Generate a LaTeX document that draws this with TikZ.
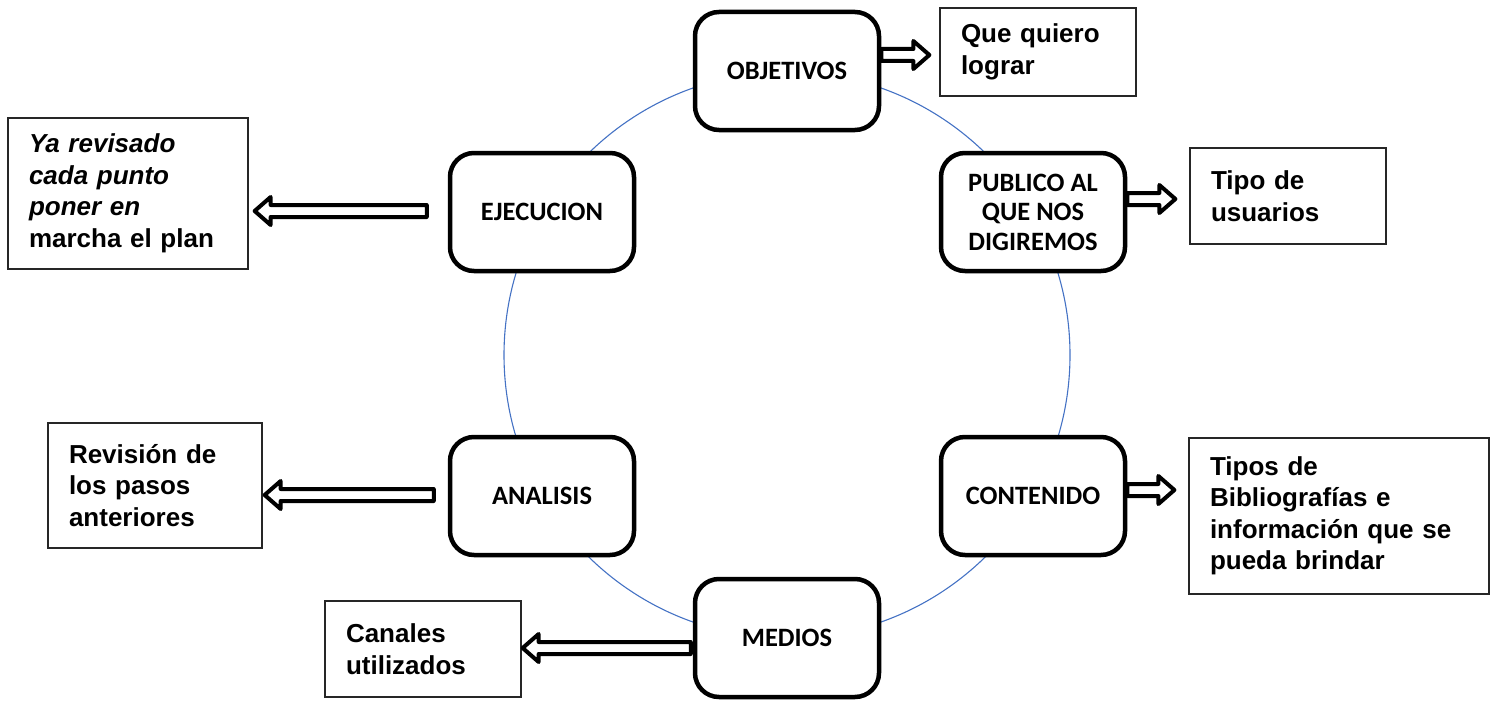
\documentclass[tikz,border=0pt]{standalone}
\usepackage{fontspec}
\setmainfont{Liberation Sans}
\newfontfamily\calib{Carlito}
\usetikzlibrary{calc}
\definecolor{ringblue}{RGB}{68,114,196}
\newcommand\harr[2]{%
  \draw[harrowstyle] let \p1=(#1), \p2=(#2), \n1={sign(\x2-\x1)} in
    (\x1,\y1+6pt) -- (\x2-\n1*16pt,\y1+6pt) -- (\x2-\n1*16pt,\y1+14pt)
    -- (\x2,\y1) -- (\x2-\n1*16pt,\y1-14pt) -- (\x2-\n1*16pt,\y1-6pt)
    -- (\x1,\y1-6pt) -- cycle;}
\tikzset{
  stepbox/.style={draw=black, line width=4.5pt, rounded corners=24pt, fill=white,
    minimum width=184pt, minimum height=118pt, inner sep=2pt, align=center,
    font=\calib\bfseries\fontsize{26.5}{29.5}\selectfont},
  notebox/.style={draw=black!85, line width=1.3pt, fill=white, inner xsep=21pt,
    inner ysep=0pt, align=left, font=\bfseries\fontsize{26}{31.5}\selectfont},
  harrowstyle/.style={draw=black, line width=4pt, fill=white, line join=round},
  ring/.style={draw=ringblue, line width=1.1pt}
}
\begin{document}
\begin{tikzpicture}[x=1pt,y=-1pt]
\useasboundingbox (0,0) rectangle (1493,701);
\coordinate (ctr) at (787,355);
\draw[ring] (ctr) circle[radius=283pt];
% step boxes
\node[stepbox] (ob) at (787,71) {OBJETIVOS};
\node[stepbox] (pu) at (1033,212) {PUBLICO AL\\QUE NOS\\DIGIREMOS};
\node[stepbox] (co) at (1033,496) {CONTENIDO};
\node[stepbox] (me) at (787,638) {MEDIOS};
\node[stepbox] (an) at (542,496) {ANALISIS};
\node[stepbox] (ej) at (542,212) {EJECUCION};
% note boxes
\node[notebox, minimum width=196pt, minimum height=88pt, text width=154pt] (qb) at (1038,52) {Que quiero\\lograr};
\node[notebox, minimum width=240pt, minimum height=151pt, text width=198pt] (yb) at (128,193.5) {{\itshape Ya revisado}\\{\itshape cada punto}\\{\itshape poner en}\\marcha el plan};
\node[notebox, minimum width=196pt, minimum height=96pt, text width=154pt] (tb) at (1288,196) {Tipo de\\usuarios};
\node[notebox, minimum width=214pt, minimum height=125pt, text width=172pt] (rb) at (155,485.5) {Revisión de\\los pasos\\anteriores};
\node[notebox, minimum width=294pt, minimum height=156pt, text width=258pt] (bb) at (1339,516) {Tipos de\\Bibliografías e\\información que se\\pueda brindar};
\node[notebox, minimum width=196pt, minimum height=96pt, text width=154pt] (cb) at (423,649) {Canales\\utilizados};
% arrows
\coordinate (a1s) at ($(ob.east)+(0,-16)$);
\coordinate (a1t) at ($(a1s -| qb.west)+(-10,0)$);
\harr{a1s}{a1t}
\coordinate (a2s) at ($(pu.east)+(0,-13)$);
\coordinate (a2t) at ($(a2s -| tb.west)+(-14,0)$);
\harr{a2s}{a2t}
\coordinate (a3s) at ($(co.east)+(0,-6)$);
\coordinate (a3t) at ($(a3s -| bb.west)+(-14,0)$);
\harr{a3s}{a3t}
\coordinate (a4s) at ($(ej.west)+(-21,-1)$);
\coordinate (a4t) at ($(a4s -| yb.east)+(6,0)$);
\harr{a4s}{a4t}
\coordinate (a5s) at ($(an.west)+(-14,-1)$);
\coordinate (a5t) at ($(a5s -| rb.east)+(2,0)$);
\harr{a5s}{a5t}
\coordinate (a6s) at ($(me.west)+(-2,10)$);
\coordinate (a6t) at ($(a6s -| cb.east)+(1,0)$);
\harr{a6s}{a6t}
\end{tikzpicture}
\end{document}
